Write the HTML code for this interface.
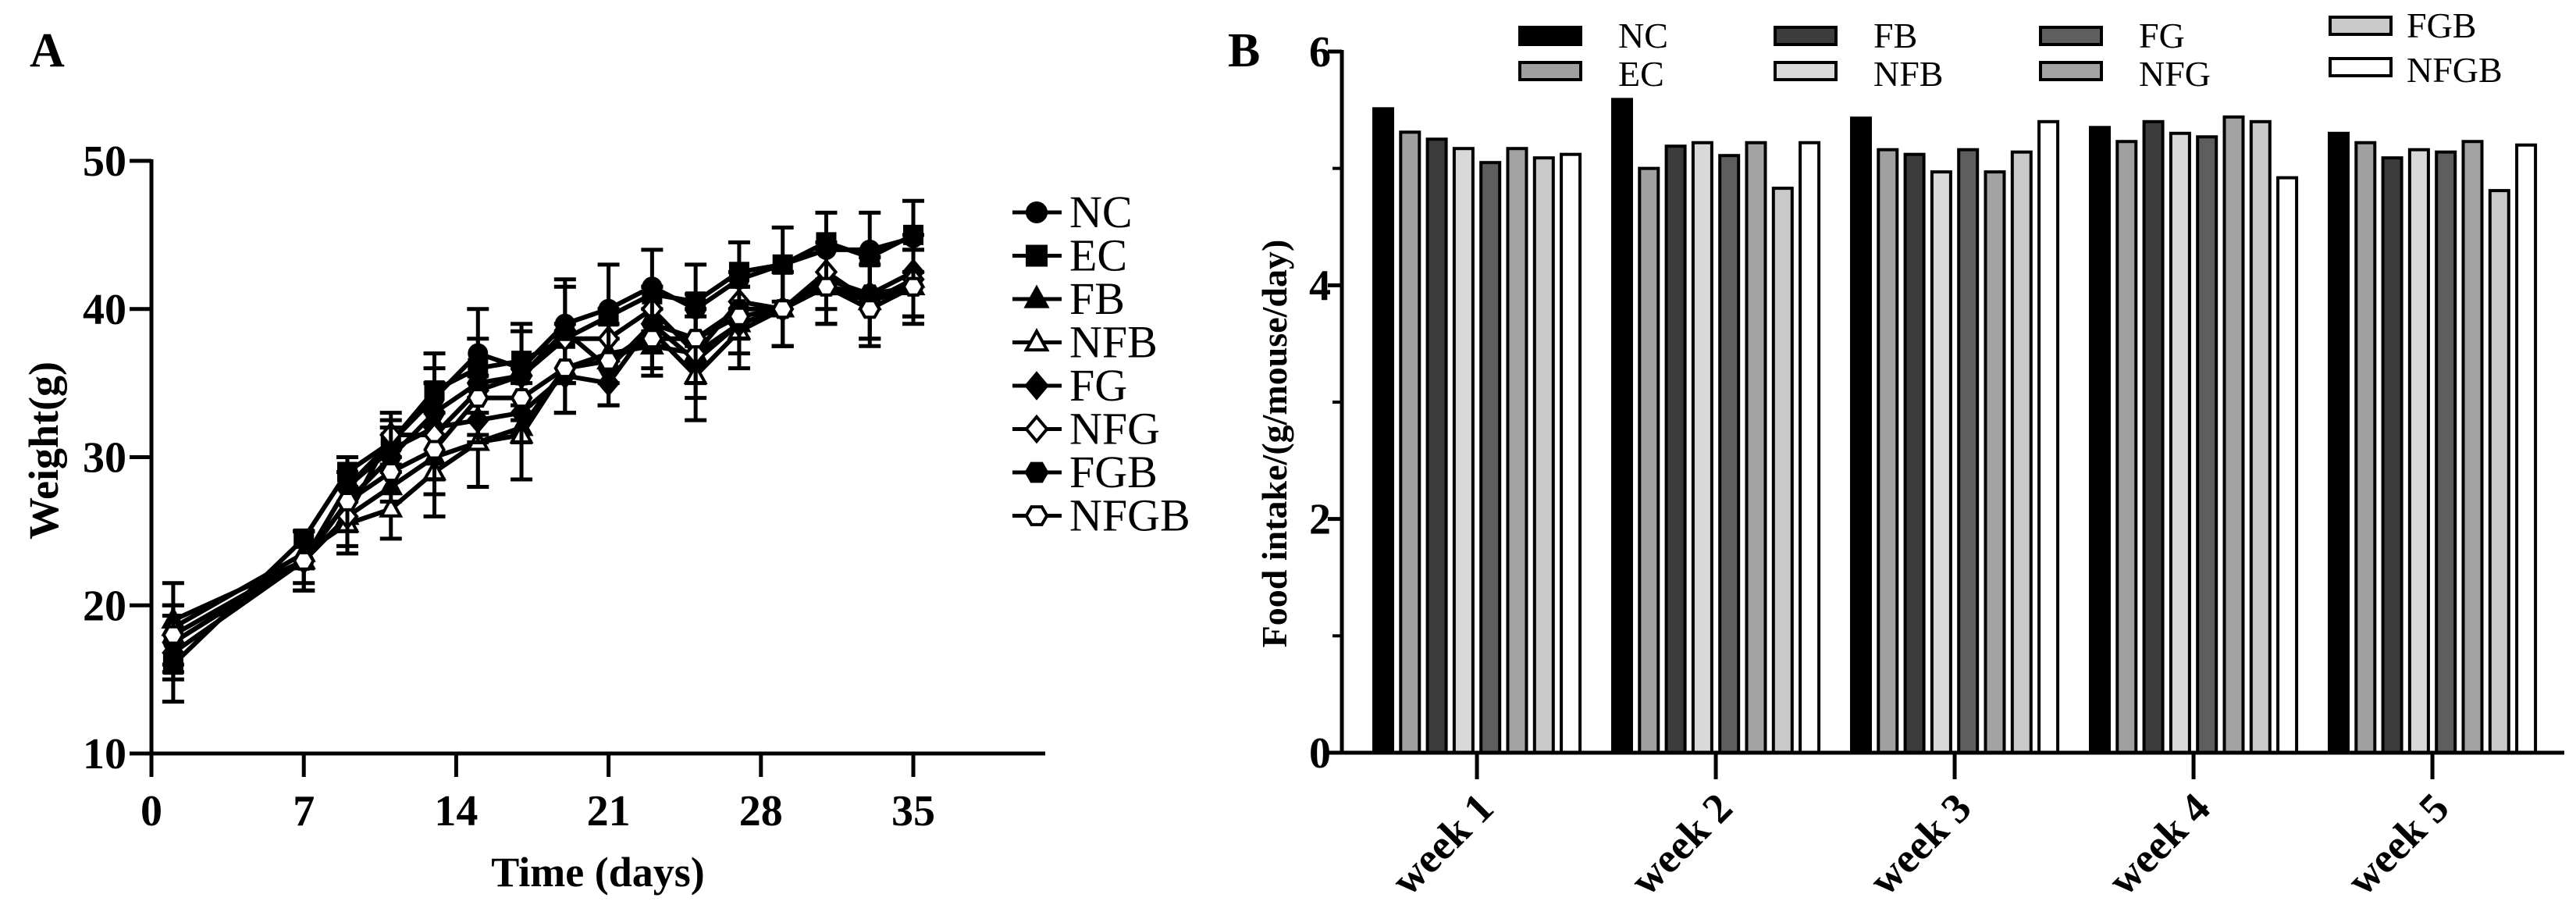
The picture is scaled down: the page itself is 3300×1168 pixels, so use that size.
<!DOCTYPE html>
<html><head><meta charset="utf-8"><style>
html,body{margin:0;padding:0;background:#fff;}
svg{display:block;font-family:"Liberation Serif",serif;}
</style></head><body>
<svg id="fig" width="3300" height="1168" viewBox="0 0 3300 1168" xmlns="http://www.w3.org/2000/svg">
<g id="panelA"></g>
<g id="panelB"></g>
</svg>
<script>
// ---- Panel A data ----
const days = [1,7,9,11,13,15,17,19,21,23,25,27,29,31,33,35];
const groupsA = ["NC","EC","FB","NFB","FG","NFG","FGB","NFGB"];
const wNC   = [17.5,23,28,31,34,37,36,39,40,41.5,40,42,43,44,44,44.8];
const wEC   = [16,24.5,29,31,34.5,36,36.5,38,39.5,41,40.5,42.5,43,44.5,43.5,45];
const wFB   = [19,23,26,28,30,31,32,36,37,37.5,37,39,40,41.5,40.5,41.5];
const wNFB  = [18.5,23.5,25.5,26.5,29,31,31.5,36,36.5,38.5,35.5,38.5,40,41.5,40.5,42];
const wFG   = [16.8,23,28,30.5,32,32.5,33,35.5,35,39,36.5,39,40,42,41,42.5];
const wNFG  = [17.5,23,26,31.5,31.5,34.5,35.5,38,38,40,37,40.5,40,42.5,40.5,42];
const wFGB  = [17.5,23,27,30,33,35,35.5,38.5,36,39,38,40,40,41.5,41,41.5];
const wNFGB = [18,23,27,29,30.5,34,34,36,36.5,38,38,39.5,40,41.5,40,41.5];
const sdA   = [2.5,2,2,2,3,3,3,3,3,2.5,3,2.5,2.5,2.5,2.5,2.5];
const ticksAx = [0,7,14,21,28,35];
const ticksAy = [10,20,30,40,50];
// ---- Panel B data ----
const weeks = ["week 1","week 2","week 3","week 4","week 5"];
const groupsB = ["NC","EC","FB","NFB","FG","NFG","FGB","NFGB"];
const fNC   = [5.51,5.59,5.43,5.35,5.30];
const fEC   = [5.31,5.00,5.16,5.23,5.22];
const fFB   = [5.25,5.19,5.12,5.40,5.09];
const fNFB  = [5.17,5.22,4.97,5.30,5.16];
const fFG   = [5.05,5.11,5.16,5.27,5.14];
const fNFG  = [5.17,5.22,4.97,5.44,5.23];
const fFGB  = [5.09,4.83,5.14,5.40,4.81];
const fNFGB = [5.12,5.22,5.40,4.92,5.20];
const ticksBy = [0,2,4,6];
const minorBy = [1,3,5];

const NS="http://www.w3.org/2000/svg";
function mk(parent,tag,attrs,text){const e=document.createElementNS(NS,tag);for(const k in attrs)e.setAttribute(k,attrs[k]);if(text!==undefined)e.textContent=text;parent.appendChild(e);return e;}

// ===== Panel A =====
const A=document.getElementById('panelA');
const ax0=194, ax1=1170, ayTop=206, ayBot=965;
const xA=d=>ax0+(d-0)*(ax1-ax0)/35;
const yA=v=>ayBot-(v-10)*(ayBot-ayTop)/40;
let t=mk(A,'text',{x:38,y:85,'font-size':62,'font-weight':'bold'},'A');


let l=mk(A,'line',{x1:ax0,y1:ayTop-2,x2:ax0,y2:ayBot,stroke:'#000','stroke-width':5});


l=mk(A,'line',{x1:ax0-2,y1:ayBot,x2:1339,y2:ayBot,stroke:'#000','stroke-width':5});


ticksAy.forEach(v=>{
  const tk=mk(A,'line',{x1:ax0-28,y1:yA(v),x2:ax0,y2:yA(v),stroke:'#000','stroke-width':5});
  
  
  const tl=mk(A,'text',{x:ax0-32,y:yA(v)+19,'font-size':56,'font-weight':'bold','text-anchor':'end'},String(v));
  
  
});
ticksAx.forEach(v=>{
  const tk=mk(A,'line',{x1:xA(v),y1:ayBot,x2:xA(v),y2:ayBot+30,stroke:'#000','stroke-width':5});
  
  
  const tl=mk(A,'text',{x:xA(v),y:ayBot+92,'font-size':56,'font-weight':'bold','text-anchor':'middle'},String(v));
  
  
});
t=mk(A,'text',{x:766,y:1135,'font-size':54,'font-weight':'bold','text-anchor':'middle'},'Time (days)');


t=mk(A,'text',{x:0,y:0,'font-size':54,'font-weight':'bold','text-anchor':'middle',transform:'translate(74,577) rotate(-90)'},'Weight(g)');



function marker(g,type,cx,cy,s){
  const st={stroke:'#000','stroke-width':4};
  const fill=type.open?'#fff':'#000';
  let e;
  if(type.k==='circle') e=mk(g,'circle',{cx,cy,r:s,fill,...st});
  else if(type.k==='square') e=mk(g,'rect',{x:cx-s,y:cy-s,width:2*s,height:2*s,fill,...st});
  else if(type.k==='tri') e=mk(g,'polygon',{points:`${cx},${cy-s*1.2} ${cx+s*1.1},${cy+s*0.8} ${cx-s*1.1},${cy+s*0.8}`,fill,...st});
  else if(type.k==='diamond') e=mk(g,'polygon',{points:`${cx},${cy-s*1.3} ${cx+s*1.1},${cy} ${cx},${cy+s*1.3} ${cx-s*1.1},${cy}`,fill,...st});
  else { let p=[];for(let i=0;i<6;i++){const a=Math.PI/3*i;p.push((cx+s*1.1*Math.cos(a))+','+(cy+s*1.1*Math.sin(a)));} e=mk(g,'polygon',{points:p.join(' '),fill,...st}); }
  return e;
}
const seriesA=[wNC,wEC,wFB,wNFB,wFG,wNFG,wFGB,wNFGB];
const mtypes=[{k:'circle'},{k:'square'},{k:'tri'},{k:'tri',open:1},{k:'diamond'},{k:'diamond',open:1},{k:'hex'},{k:'hex',open:1}];
seriesA.forEach((vals,si)=>{
  const g=mk(A,'g',{});
  
  
  vals.forEach((v,i)=>{
    const x=xA(days[i]);
    const up=(si%2===0)?1:-1;
    const y2=yA(v+up*sdA[i]);
    const eb=mk(g,'path',{d:`M${x},${yA(v)}V${y2}M${x-14},${y2}H${x+14}`,stroke:'#000','stroke-width':5,fill:'none'});
    
    
  });
  const pl=mk(g,'polyline',{points:vals.map((v,i)=>xA(days[i])+','+yA(v)).join(' '),fill:'none',stroke:'#000','stroke-width':6});
  
  
  vals.forEach((v,i)=>{
    const m=marker(g,mtypes[si],xA(days[i]),yA(v),11);
    
    
  });
});
groupsA.forEach((name,i)=>{
  const y=272+i*55.5;
  const g=mk(A,'g',{});
  
  
  mk(g,'line',{x1:1297,y1:y,x2:1360,y2:y,stroke:'#000','stroke-width':5});
  marker(g,mtypes[i],1328,y,12);
  mk(g,'text',{x:1370,y:y+19,'font-size':58},name);
});

// ===== Panel B =====
const B=document.getElementById('panelB');
const bx0=1719, bx1=3285, byTop=66, byBot=964;
const yB=v=>byBot-v*(byBot-byTop)/6;
const groupPitch=306, barPitch=34.3, barW=24;
const colors=["#000","#a0a0a0","#3c3c3c","#d9d9d9","#5e5e5e","#a3a3a3","#c9c9c9","#fff"];
const seriesB=[fNC,fEC,fFB,fNFB,fFG,fNFG,fFGB,fNFGB];
t=mk(B,'text',{x:1573,y:85,'font-size':62,'font-weight':'bold'},'B');


weeks.forEach((w,wi)=>{
  const gx=bx0+41+groupPitch*wi;
  seriesB.forEach((vals,si)=>{
    const x=gx+si*barPitch;
    const r=mk(B,'rect',{x,y:yB(vals[wi]),width:barW,height:byBot-yB(vals[wi]),fill:colors[si],stroke:'#000','stroke-width':4});
    
    
  });
  const cx=gx+3.5*barPitch+barW/2;
  const tk=mk(B,'line',{x1:cx,y1:byBot,x2:cx,y2:byBot+34,stroke:'#000','stroke-width':5});
  
  
  const tl=mk(B,'text',{x:0,y:0,'font-size':54,'font-weight':'bold','text-anchor':'end',transform:`translate(${cx+24},${byBot+74}) rotate(-45)`},w);
  
  
});
l=mk(B,'line',{x1:bx0,y1:byTop-2,x2:bx0,y2:byBot,stroke:'#000','stroke-width':5});


l=mk(B,'line',{x1:bx0-2,y1:byBot,x2:bx1,y2:byBot,stroke:'#000','stroke-width':5});


ticksBy.forEach(v=>{
  const tk=mk(B,'line',{x1:bx0-18,y1:yB(v),x2:bx0,y2:yB(v),stroke:'#000','stroke-width':5});
  
  
  const tl=mk(B,'text',{x:bx0-14,y:yB(v)+19,'font-size':56,'font-weight':'bold','text-anchor':'end'},String(v));
  
  
});
minorBy.forEach(v=>{
  const tk=mk(B,'line',{x1:bx0-12,y1:yB(v),x2:bx0,y2:yB(v),stroke:'#000','stroke-width':4});
  
  
});
t=mk(B,'text',{x:0,y:0,'font-size':46,'font-weight':'bold','text-anchor':'middle',transform:'translate(1648,568) rotate(-90)'},'Food intake/(g/mouse/day)');


const legPos=[[1947,35],[1947,80],[2274,35],[2274,80],[2614,35],[2614,80],[2985,22],[2985,75]];
groupsB.forEach((name,i)=>{
  const [lx,ly]=legPos[i];
  const g=mk(B,'g',{});
  
  
  mk(g,'rect',{x:lx,y:ly,width:78,height:22,fill:colors[i],stroke:'#000','stroke-width':4});
  mk(g,'text',{x:lx+(i<6?126:98),y:ly+(i%2===0?26:30),'font-size':46},name);
});
</script>
</body></html>
